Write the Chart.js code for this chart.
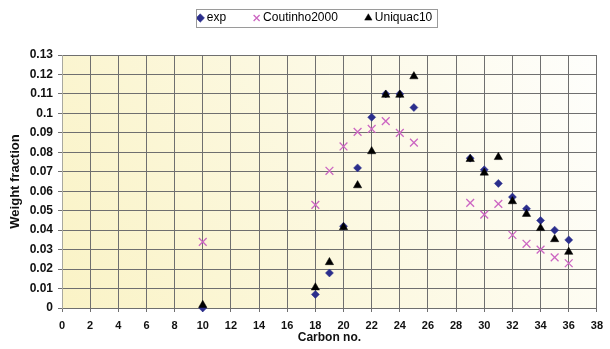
<!DOCTYPE html>
<html>
<head>
<meta charset="utf-8">
<script src="https://cdn.jsdelivr.net/npm/chart.js@4/dist/chart.umd.min.js"></script>
<style>
  html, body { margin: 0; padding: 0; background: #ffffff; }
  canvas { display: block; }
</style>
</head>
<body>
<canvas id="chart" width="610" height="349"></canvas>
<script>
// Carbon numbers of the measured fractions
const carbonNo = [10, 18, 19, 20, 21, 22, 23, 24, 25, 29, 30, 31, 32, 33, 34, 35, 36];

// Weight fractions per carbon number
const expFrac      = [0, 0.007, 0.018, 0.042, 0.072, 0.098, 0.110, 0.110, 0.103, 0.077, 0.071, 0.064, 0.057, 0.051, 0.045, 0.040, 0.035];
const coutinhoFrac = [0.034, 0.053, 0.0705, 0.083, 0.0905, 0.092, 0.096, 0.090, 0.085, 0.054, 0.048, 0.0535, 0.0375, 0.033, 0.030, 0.026, 0.023];
const uniquacFrac  = [0.0015, 0.0105, 0.0235, 0.0415, 0.063, 0.0805, 0.1095, 0.1095, 0.119, 0.0765, 0.0695, 0.0775, 0.0548, 0.0483, 0.041, 0.0353, 0.0288];

// Axis ticks
const yTickValues = [0, 0.01, 0.02, 0.03, 0.04, 0.05, 0.06, 0.07, 0.08, 0.09, 0.10, 0.11, 0.12, 0.13];
const yTickLabels = ['0', '0.01', '0.02', '0.03', '0.04', '0.05', '0.06', '0.07', '0.08', '0.09', '0.1', '0.11', '0.12', '0.13'];

const FONT = "'Liberation Sans', Arial, Helvetica, sans-serif";
const GRID = '#6f6f6f';
const toPoints = vals => carbonNo.map((c, i) => ({ x: c, y: vals[i] }));

// Pale yellow wash behind the plot area
const plotBackground = {
  id: 'plotBackground',
  beforeDraw(chart) {
    const { ctx, chartArea: a } = chart;
    const g = ctx.createLinearGradient(a.left, a.bottom, a.right, a.top);
    g.addColorStop(0, '#faf3c6');
    g.addColorStop(1, '#fefefc');
    ctx.save();
    ctx.fillStyle = g;
    ctx.fillRect(a.left, a.top, a.right - a.left, a.bottom - a.top);
    ctx.restore();
  }
};

// Places the legend row and draws a frame around it
const LEGEND_CENTER_X = 316;
const LEGEND_TEXT_Y = 18;
const legendFrame = {
  id: 'legendFrame',
  afterUpdate(chart) {
    const lg = chart.legend;
    if (!lg || !lg.legendHitBoxes.length) return;
    const hb = lg.legendHitBoxes;
    const l = Math.min(...hb.map(h => h.left));
    const r = Math.max(...hb.map(h => h.left + h.width));
    const dx = LEGEND_CENTER_X - (l + r) / 2;
    const dy = LEGEND_TEXT_Y - (hb[0].top + hb[0].height / 2);
    lg.left += dx; lg.right += dx;
    lg.top += dy; lg.bottom += dy;
    hb.forEach(h => { h.left += dx; h.top += dy; });
  },
  afterDraw(chart) {
    const hb = chart.legend.legendHitBoxes;
    if (!hb.length) return;
    const l = Math.min(...hb.map(h => h.left)) - 3.5;
    const r = Math.max(...hb.map(h => h.left + h.width)) + 5;
    const t = hb[0].top - 3;
    const b = hb[0].top + hb[0].height + 3;
    const ctx = chart.ctx;
    ctx.save();
    ctx.strokeStyle = '#9a9a9a';
    ctx.lineWidth = 1;
    ctx.strokeRect(Math.round(l) + 0.5, Math.round(t) + 0.5, Math.round(r - l), Math.round(b - t));
    ctx.restore();
  }
};

new Chart(document.getElementById('chart'), {
  type: 'scatter',
  data: {
    datasets: [
      {
        label: 'exp',
        data: toPoints(expFrac),
        pointStyle: 'rectRot',
        pointRadius: 4,
        pointHoverRadius: 4,
        backgroundColor: '#2b2e8c',
        borderColor: '#2b2e8c',
        pointBorderWidth: 0.5,
        order: 2,
        clip: false
      },
      {
        label: 'Coutinho2000',
        data: toPoints(coutinhoFrac),
        pointStyle: 'crossRot',
        pointRadius: 5.5,
        pointHoverRadius: 5.5,
        backgroundColor: '#cc66c2',
        borderColor: '#cc66c2',
        pointBorderWidth: 1.3,
        order: 1,
        clip: false
      },
      {
        label: 'Uniquac10',
        data: toPoints(uniquacFrac),
        pointStyle: 'triangle',
        pointRadius: 4.8,
        pointHoverRadius: 4.8,
        backgroundColor: '#000000',
        borderColor: '#000000',
        pointBorderWidth: 0.5,
        order: 0,
        clip: false
      }
    ]
  },
  options: {
    responsive: false,
    animation: false,
    devicePixelRatio: 1,
    layout: { padding: { left: 0, right: 11, top: 0, bottom: 0 } },
    plugins: {
      tooltip: { enabled: false },
      legend: {
        position: 'top',
        labels: {
          usePointStyle: true,
          boxWidth: 1,
          boxHeight: 6,
          padding: 30,
          color: '#000000',
          font: { family: FONT, size: 12 },
          sort: (a, b) => a.datasetIndex - b.datasetIndex
        }
      }
    },
    scales: {
      x: {
        type: 'linear',
        min: 0,
        max: 38,
        ticks: {
          stepSize: 2,
          color: '#111111',
          padding: 7,
          maxRotation: 0,
          font: { family: FONT, size: 11, weight: 'bold' }
        },
        grid: { color: GRID, tickLength: 4, drawTicks: true },
        border: { color: GRID },
        title: {
          display: true,
          text: 'Carbon no.',
          color: '#111111',
          font: { family: FONT, size: 12, weight: 'bold' },
          padding: { top: 0, bottom: 4 }
        },
        afterFit(s) { s.height = 41; }
      },
      y: {
        type: 'linear',
        min: 0,
        max: 0.13,
        afterBuildTicks(s) { s.ticks = yTickValues.map(v => ({ value: v })); },
        ticks: {
          color: '#111111',
          padding: 5,
          font: { family: FONT, size: 12, weight: 'bold' },
          callback: (v, i) => yTickLabels[i]
        },
        grid: { color: GRID, tickLength: 4, drawTicks: true },
        border: { color: '#a8a8a0' },
        title: {
          display: true,
          text: 'Weight fraction',
          color: '#111111',
          font: { family: FONT, size: 13, weight: 'bold' },
          padding: { top: 8, bottom: 0 }
        },
        afterFit(s) { s.width = 62; s.paddingTop = 55; }
      }
    }
  },
  plugins: [plotBackground, legendFrame]
});
</script>
</body>
</html>
